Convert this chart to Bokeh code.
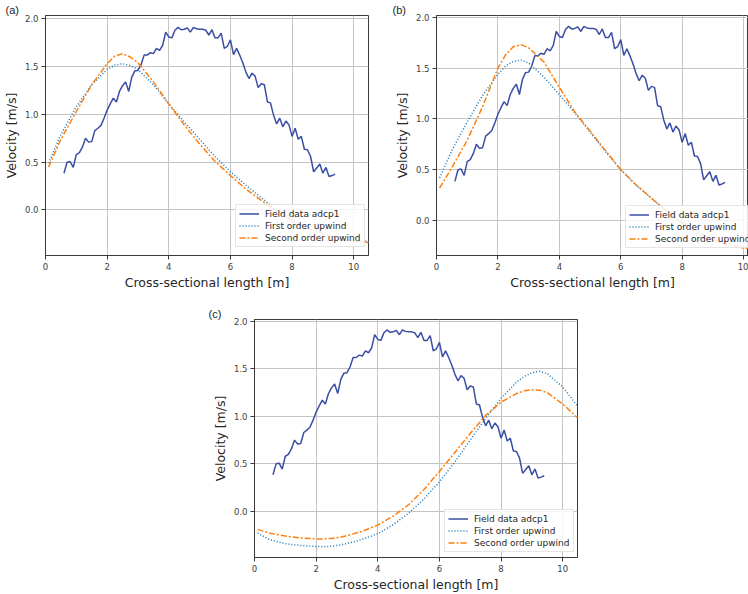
from bokeh.plotting import figure
from bokeh.layouts import column, row
from bokeh.models import Spacer, Legend, LegendItem, FixedTicker, Range1d
from bokeh.embed import file_html
from bokeh.resources import INLINE

# ---------------- data ----------------
field_x = [0.6, 0.7, 0.8, 0.9, 1.0, 1.1, 1.2, 1.3, 1.4, 1.5, 1.6, 1.7, 1.8, 1.9,
           2.0, 2.1, 2.2, 2.3, 2.4, 2.5, 2.6, 2.7, 2.8, 2.9, 3.0, 3.1, 3.2, 3.3,
           3.4, 3.5, 3.6, 3.7, 3.8, 3.9, 4.0, 4.1, 4.2, 4.3, 4.4, 4.5, 4.6, 4.7,
           4.8, 4.9, 5.0, 5.1, 5.2, 5.3, 5.4, 5.5, 5.6, 5.7, 5.8, 5.9, 6.0, 6.1,
           6.2, 6.3, 6.4, 6.5, 6.6, 6.7, 6.8, 6.9, 7.0, 7.1, 7.2, 7.3, 7.4, 7.5,
           7.6, 7.7, 7.8, 7.9, 8.0, 8.1, 8.2, 8.3, 8.4, 8.5, 8.6, 8.7, 8.8, 8.9,
           9.0, 9.1, 9.2, 9.3, 9.4]
field_v = [0.385, 0.50, 0.507, 0.445, 0.58, 0.60, 0.66, 0.75, 0.71, 0.715, 0.83, 0.855, 0.885, 0.96,
           1.045, 1.11, 1.17, 1.13, 1.24, 1.30, 1.34, 1.24, 1.39, 1.455, 1.46, 1.52, 1.62, 1.62,
           1.645, 1.635, 1.69, 1.67, 1.72, 1.86, 1.81, 1.80, 1.88, 1.91, 1.885, 1.89, 1.905, 1.86,
           1.91, 1.895, 1.89, 1.89, 1.88, 1.83, 1.885, 1.80, 1.80, 1.85, 1.69, 1.71, 1.78, 1.625,
           1.69, 1.62, 1.54, 1.445, 1.375, 1.43, 1.40, 1.28, 1.32, 1.31, 1.13, 1.12, 0.99, 0.90,
           0.96, 0.87, 0.93, 0.89, 0.77, 0.855, 0.74, 0.77, 0.635, 0.63, 0.56, 0.40, 0.44, 0.48,
           0.385, 0.445, 0.35, 0.36, 0.375]

model_x = [0.1, 0.5, 1.0, 1.5, 2.0, 2.25, 2.5, 2.75, 3.0, 3.5, 4.0, 4.5, 5.0, 5.5, 6.0, 6.5,
           7.0, 7.5, 8.0, 8.5, 8.75, 9.0, 9.25, 9.5, 10.0, 10.5]

first_a = [0.49, 0.79, 1.08, 1.31, 1.47, 1.515, 1.53, 1.51, 1.47, 1.31, 1.11, 0.92, 0.74, 0.56,
           0.40, 0.26, 0.13, 0.00, -0.10, -0.18, -0.21, -0.24, -0.27, -0.29, -0.32, -0.33]
second_a = [0.45, 0.74, 1.03, 1.31, 1.53, 1.61, 1.635, 1.60, 1.54, 1.34, 1.11, 0.89, 0.69, 0.51,
            0.36, 0.22, 0.10, -0.01, -0.11, -0.19, -0.22, -0.25, -0.28, -0.30, -0.33, -0.34]

first_b = [0.42, 0.69, 0.97, 1.23, 1.44, 1.52, 1.565, 1.578, 1.55, 1.41, 1.24, 1.06, 0.87, 0.68,
           0.50, 0.35, 0.22, 0.09, -0.02, -0.11, -0.15, -0.18, -0.21, -0.23, -0.26, -0.27]
second_b = [0.32, 0.52, 0.79, 1.12, 1.50, 1.63, 1.71, 1.73, 1.70, 1.56, 1.31, 1.07, 0.88, 0.69,
            0.50, 0.35, 0.22, 0.09, -0.03, -0.12, -0.16, -0.19, -0.22, -0.24, -0.27, -0.28]

first_c = [-0.23, -0.30, -0.34, -0.36, -0.37, -0.372, -0.368, -0.355, -0.34, -0.295, -0.235,
           -0.14, -0.02, 0.13, 0.31, 0.52, 0.75, 0.98, 1.19, 1.36, 1.42, 1.46, 1.475, 1.45,
           1.31, 1.10]
second_c = [-0.19, -0.23, -0.26, -0.28, -0.29, -0.29, -0.285, -0.275, -0.255, -0.21, -0.145,
            -0.05, 0.07, 0.23, 0.42, 0.62, 0.82, 1.01, 1.15, 1.24, 1.27, 1.28, 1.275, 1.25,
            1.13, 0.98]

x_ticks = [0, 2, 4, 6, 8, 10]
y_ticks = [0.0, 0.5, 1.0, 1.5, 2.0]
y_tick_labels = ["0.0", "0.5", "1.0", "1.5", "2.0"]
series_names = ["Field data adcp1", "First order upwind", "Second order upwind"]
panel_tags = ["(a)", "(b)", "(c)"]
x_title = "Cross-sectional length [m]"
y_title = "Velocity [m/s]"

# ---------------- styling ----------------
FONT = "DejaVu Sans"
C_FIELD = "#3a4ea5"
C_FIRST = "#1f77b4"
C_SECOND = "#ff7f0e"


def make_panel(width, height, bl, br, bt, bb, xr, yr, fo, so, tag, tag_offset, leg_loc):
    p = figure(width=width, height=height, output_backend="svg", toolbar_location=None,
               x_range=Range1d(*xr), y_range=Range1d(*yr),
               min_border_left=bl, min_border_right=br, min_border_top=bt, min_border_bottom=bb)
    p.background_fill_color = "white"
    p.border_fill_color = "white"
    p.outline_line_color = "#3a3a3a"
    p.outline_line_width = 1

    p.title.text = tag
    p.title.align = "left"
    p.title.offset = tag_offset
    p.title.standoff = 0
    p.title.text_font = "Liberation Sans"
    p.title.text_font_size = "11px"
    p.title.text_font_style = "normal"
    p.title.text_color = "#222222"

    r1 = p.line(field_x, field_v, line_color=C_FIELD, line_width=1.5)
    r2 = p.line(model_x, fo, line_color=C_FIRST, line_width=1.5, line_dash="1 2")
    r3 = p.line(model_x, so, line_color=C_SECOND, line_width=1.5, line_dash="6 2 2 2")

    for ax in (p.xaxis[0], p.yaxis[0]):
        ax.major_label_text_font = FONT
        ax.major_label_text_font_size = "8.5px"
        ax.major_label_text_color = "#3d3d3d"
        ax.axis_label_text_font = FONT
        ax.axis_label_text_font_size = "12.5px"
        ax.axis_label_text_font_style = "normal"
        ax.axis_label_text_color = "#262626"
        ax.axis_line_color = "#3a3a3a"
        ax.major_tick_line_color = "#3a3a3a"
        ax.major_tick_out = 4
        ax.major_tick_in = 0
        ax.minor_tick_line_color = None
        ax.major_label_standoff = 3

    p.xaxis[0].ticker = FixedTicker(ticks=x_ticks)
    p.xaxis[0].axis_label = x_title
    p.xaxis[0].axis_label_standoff = 2
    p.yaxis[0].ticker = FixedTicker(ticks=y_ticks)
    p.yaxis[0].major_label_overrides = {t: l for t, l in zip(y_ticks, y_tick_labels)}
    p.yaxis[0].axis_label = y_title
    p.yaxis[0].axis_label_standoff = 3

    p.xgrid.grid_line_color = "#c4c4c4"
    p.ygrid.grid_line_color = "#c4c4c4"
    p.xgrid.grid_line_width = 1
    p.ygrid.grid_line_width = 1

    legend = Legend(items=[LegendItem(label=series_names[0], renderers=[r1]),
                           LegendItem(label=series_names[1], renderers=[r2]),
                           LegendItem(label=series_names[2], renderers=[r3])],
                    location=leg_loc)
    legend.label_text_font = FONT
    legend.label_text_font_size = "9px"
    legend.label_text_color = "#262626"
    legend.glyph_width = 20
    legend.glyph_height = 11
    legend.label_height = 11
    legend.label_standoff = 6
    legend.spacing = 1
    legend.padding = 3
    legend.margin = 0
    legend.border_line_color = "#cccccc"
    legend.border_line_width = 1
    legend.background_fill_alpha = 0.85
    p.add_layout(legend, "center")
    return p


pa = make_panel(374, 300, 45, 6, 15, 44, (0, 10.48), (-0.476, 2.034),
                first_a, second_a, panel_tags[0], -40, (190, 8))
pb = make_panel(374, 300, 62, 0, 15, 45, (0, 10.16), (-0.344, 2.017),
                first_b, second_b, panel_tags[1], -44, (189, 7))
pc = make_panel(374, 294, 45, 6, 19, 34, (0, 10.48), (-0.486, 2.02),
                first_c, second_c, panel_tags[2], -46, (190, 5))

layout = column(row(pa, pb), row(Spacer(width=209, height=294), pc))

with open("out.html", "w") as f:
    f.write(file_html(layout, INLINE))
